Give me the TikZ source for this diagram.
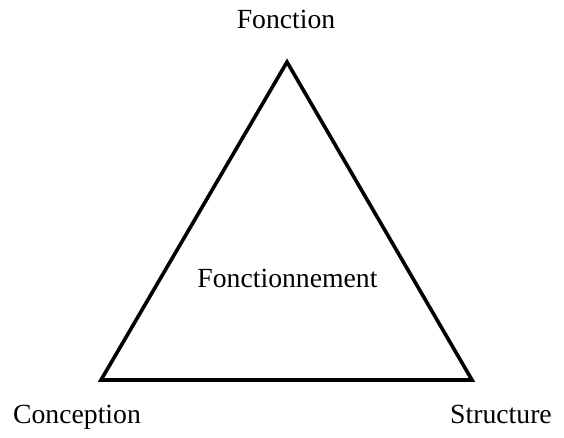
\documentclass[tikz,border=0pt]{standalone}
\usepackage{fontspec}
\setmainfont{Liberation Serif}
\usetikzlibrary{positioning,calc}

\begin{document}
\begin{tikzpicture}[x=1pt,y=-1pt]
		\tikzset{
			pole/.style={anchor=base,inner sep=0pt,font=\fontsize{27.7}{30}\selectfont},
			side/.style={line width=3.6pt,line join=miter},
		}
		\useasboundingbox (0,0) rectangle (564,438);
		\coordinate (top) at (287,62);
		\coordinate (bl) at (101,380);
		\coordinate (br) at (472,380);
		\draw[side] (top) -- (br) -- (bl) -- cycle;

		\node[pole] (fonction) at (286,29) {Fonction};
		\node[pole] (conception) at (77,423) {Conception};
		\node[pole] (structure) at (501,423) {Structure};
		\node[pole] (fonctionnement) at (287.5,287) {Fonctionnement};
	\end{tikzpicture}
\end{document}
